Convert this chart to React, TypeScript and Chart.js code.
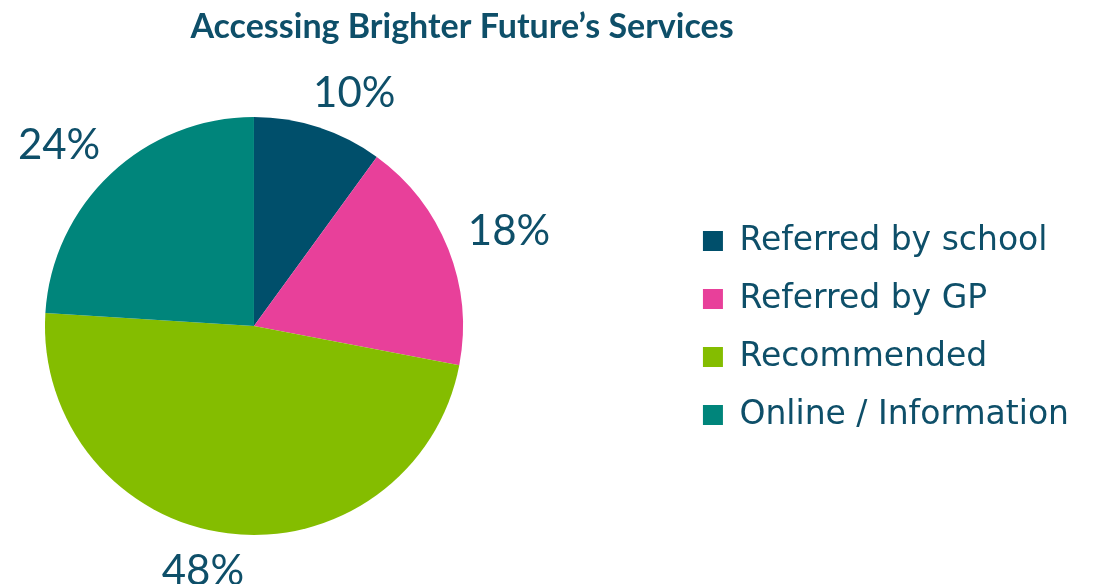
import React, { useEffect, useRef } from "react";
import { Chart, registerables } from "chart.js";

Chart.register(...registerables);

const categories = ["Referred by school", "Referred by GP", "Recommended", "Online / Information"];
const shares = [10, 18, 48, 24];
const sliceColors = ["#004F6B", "#E8409A", "#84BD00", "#00857B"];
const titleText = "Accessing Brighter Future\u2019s Services";

const TEXT = "#0E4F69";
const LABEL_SIZE = 42;
const PIE_AREA_LEFT = -170;

const outsideLabels = {
  id: "outsideLabels",
  afterDatasetsDraw(chart: any) {
    const ctx = chart.ctx as CanvasRenderingContext2D;
    const meta = chart.getDatasetMeta(0);
    ctx.save();
    ctx.font = `${LABEL_SIZE}px Lato`;
    ctx.fillStyle = TEXT;
    ctx.textAlign = "center";
    ctx.textBaseline = "alphabetic";
    meta.data.forEach((arc: any, i: number) => {
      const { x, y, startAngle, endAngle, outerRadius } = arc.getProps(
        ["x", "y", "startAngle", "endAngle", "outerRadius"],
        true
      );
      const mid = (startAngle + endAngle) / 2;
      const dx = Math.cos(mid);
      const dy = Math.sin(mid);
      const label = shares[i] + "%";
      const w = ctx.measureText(label).width;
      const capH = LABEL_SIZE * 0.72;
      const g = 22;
      const ax = x + dx * (outerRadius + g);
      const ay = y + dy * (outerRadius + g);
      const p = 0.3;
      const cx = ax + Math.sign(dx) * Math.pow(Math.abs(dx), p) * (w / 2);
      const cy = ay + Math.sign(dy) * Math.pow(Math.abs(dy), p) * (capH / 2);
      ctx.fillText(label, cx, cy + capH / 2);
    });
    ctx.restore();
  },
};

// The pie sits left of centre in the space the legend leaves it.
const pieArea = {
  id: "pieArea",
  afterLayout(chart: any) {
    const a = chart.chartArea;
    a.left = PIE_AREA_LEFT;
    a.width = a.right - a.left;
  },
};

export default function App() {
  const ref = useRef<HTMLCanvasElement>(null);
  useEffect(() => {
    const chart = new Chart(ref.current!, {
      type: "pie",
      data: {
        labels: categories,
        datasets: [
          {
            data: shares,
            backgroundColor: sliceColors,
            borderWidth: 0,
            radius: 209,
          } as any,
        ],
      },
      options: {
        responsive: false,
        devicePixelRatio: 1,
        animation: false,
        layout: { padding: { left: -155, right: 15, top: 0, bottom: 0 } },
        plugins: {
          title: {
            display: true,
            text: titleText,
            color: TEXT,
            font: { family: "Lato", size: 34, weight: "bold" },
            padding: { top: 7, bottom: 20.2 },
          },
          legend: {
            position: "right",
            title: {
              display: true,
              text: "",
              font: { size: 12 },
              padding: { top: 57.6, bottom: 0 },
            },
            labels: {
              boxWidth: 20,
              boxHeight: 20,
              padding: 25,
              color: TEXT,
              font: { family: "DejaVu Sans", size: 33 },
            },
          },
          tooltip: { enabled: false },
        },
      },
      plugins: [pieArea, outsideLabels],
    });
    return () => chart.destroy();
  }, []);
  return (
    <div style={{ position: "fixed", left: 0, top: 0, width: 1094, height: 584, background: "#fff" }}>
      <canvas ref={ref} width={1094} height={584} style={{ display: "block" }} />
    </div>
  );
}
